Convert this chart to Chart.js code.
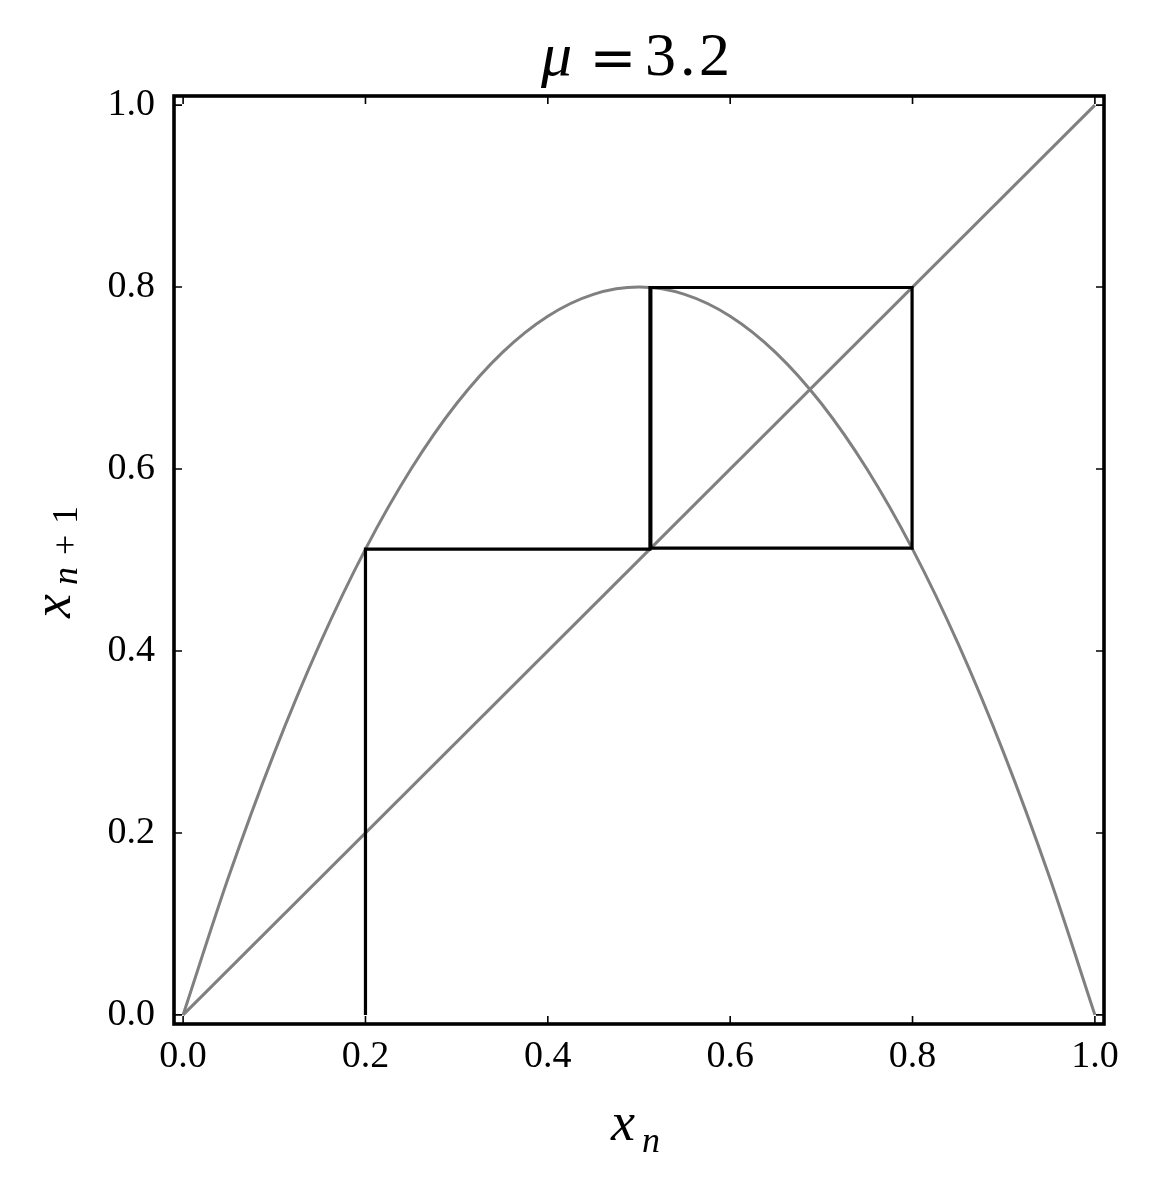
<!DOCTYPE html>
<html>
<head>
<meta charset="utf-8">
<script src="https://cdn.jsdelivr.net/npm/chart.js@4/dist/chart.umd.min.js"></script>
<style>
  html, body { margin: 0; padding: 0; background: #fff; }
  #wrap { width: 1150px; height: 1185px; }
</style>
</head>
<body>
<div id="wrap"><canvas id="c" width="1150" height="1185"></canvas></div>
<script>
// map curve x_{n+1} vs x_n
var curveX = [0, 0.05, 0.1, 0.15, 0.2, 0.25, 0.3, 0.35, 0.4, 0.45, 0.5,
              0.55, 0.6, 0.65, 0.7, 0.75, 0.8, 0.85, 0.9, 0.95, 1.0];
var curveY = [0, 0.152, 0.288, 0.408, 0.512, 0.6, 0.672, 0.728, 0.768, 0.792, 0.8,
              0.792, 0.768, 0.728, 0.672, 0.6, 0.512, 0.408, 0.288, 0.152, 0];

// diagonal x_{n+1} = x_n
var diagX = [0, 1];
var diagY = [0, 1];

// cobweb path starting at x0 = 0.2
var webX = [0.2, 0.2, 0.512, 0.512, 0.7995, 0.7995, 0.513, 0.513, 0.7995, 0.7995, 0.513];
var webY = [0, 0.512, 0.512, 0.7995, 0.7995, 0.513, 0.513, 0.7995, 0.7995, 0.513, 0.513];

var tickVals = [0, 0.2, 0.4, 0.6, 0.8, 1.0];
var axisMin = -0.01, axisMax = 1.01;

function pts(xs, ys) {
  var out = [];
  for (var i = 0; i < xs.length; i++) out.push({x: xs[i], y: ys[i]});
  return out;
}

var GRAY = '#808080';
var tickFont = {family: "'Liberation Serif', 'Times New Roman', serif", size: 38};

// frame, inward ticks and the math-style texts
var decor = {
  id: 'decor',
  afterDraw: function(chart) {
    var ctx = chart.ctx, a = chart.chartArea;
    var sx = chart.scales.x, sy = chart.scales.y;
    ctx.save();
    ctx.strokeStyle = '#000';
    ctx.lineWidth = 1.6;
    ctx.beginPath();
    tickVals.forEach(function(v) {
      var px = sx.getPixelForValue(v), py = sy.getPixelForValue(v);
      ctx.moveTo(px, a.bottom); ctx.lineTo(px, a.bottom - 8);
      ctx.moveTo(px, a.top); ctx.lineTo(px, a.top + 8);
      ctx.moveTo(a.left, py); ctx.lineTo(a.left + 8, py);
      ctx.moveTo(a.right, py); ctx.lineTo(a.right - 8, py);
    });
    ctx.stroke();
    ctx.lineWidth = 3.6;
    ctx.strokeRect(a.left, a.top, a.right - a.left, a.bottom - a.top);

    ctx.fillStyle = '#000';
    ctx.textBaseline = 'alphabetic';
    ctx.textAlign = 'left';
    var cx = (a.left + a.right) / 2;

    // title  mu = 3.2
    ctx.font = "italic 62px 'Liberation Serif'";
    ctx.fillText('\u03bc', cx - 98, 75);
    ctx.font = "56px 'DejaVu Sans'";
    ctx.textAlign = 'center';
    ctx.fillText('=', cx - 26, 77);
    ctx.textAlign = 'left';
    ctx.font = "62px 'Liberation Serif'";
    ctx.fillText('3', cx + 6, 75);
    ctx.fillText('.', cx + 41, 75);
    ctx.fillText('2', cx + 60, 75);

    // x label  x_n
    ctx.font = "italic 54px 'Liberation Serif'";
    ctx.fillText('x', cx - 28, 1140);
    ctx.font = "italic 36px 'Liberation Serif'";
    ctx.fillText('n', cx + 3, 1152);

    // y label  x_{n+1}, rotated
    var cy = (a.top + a.bottom) / 2;
    function vtext(str, font, bx, sy0) {
      ctx.save();
      ctx.translate(bx, sy0);
      ctx.rotate(-Math.PI / 2);
      ctx.font = font;
      ctx.fillText(str, 0, 0);
      ctx.restore();
    }
    vtext('x', "italic 54px 'Liberation Serif'", 70, cy + 58);
    vtext('n', "italic 36px 'Liberation Serif'", 77, cy + 25);
    vtext('+', "36px 'Liberation Serif'", 77, cy - 5);
    vtext('1', "36px 'Liberation Serif'", 77, cy - 36);
    ctx.restore();
  }
};

new Chart(document.getElementById('c'), {
  type: 'scatter',
  data: {
    datasets: [
      {
        data: pts(webX, webY),
        showLine: true, borderColor: '#000', borderWidth: 3.2,
        pointRadius: 0, tension: 0, order: 1
      },
      {
        data: pts(curveX, curveY),
        showLine: true, borderColor: GRAY, borderWidth: 3,
        pointRadius: 0, cubicInterpolationMode: 'monotone', order: 2
      },
      {
        data: pts(diagX, diagY),
        showLine: true, borderColor: GRAY, borderWidth: 3,
        pointRadius: 0, order: 3
      }
    ]
  },
  options: {
    responsive: false,
    animation: false,
    layout: {padding: {top: 96, right: 46, left: 0, bottom: 0}},
    plugins: {legend: {display: false}, tooltip: {enabled: false}, title: {display: false}},
    scales: {
      x: {
        type: 'linear', min: axisMin, max: axisMax,
        afterBuildTicks: function(s) { s.ticks = tickVals.map(function(v) { return {value: v}; }); },
        afterFit: function(s) { s.height = 161; },
        grid: {display: false, drawTicks: false},
        border: {display: false},
        ticks: {
          font: tickFont, color: '#000', padding: 10, maxRotation: 0, autoSkip: false,
          callback: function(v) { return v.toFixed(1); }
        }
      },
      y: {
        type: 'linear', min: axisMin, max: axisMax,
        afterBuildTicks: function(s) { s.ticks = tickVals.map(function(v) { return {value: v}; }); },
        afterFit: function(s) { s.width = 174; },
        grid: {display: false, drawTicks: false},
        border: {display: false},
        ticks: {
          font: tickFont, color: '#000', padding: 19, autoSkip: false,
          callback: function(v) { return v.toFixed(1); }
        }
      }
    }
  },
  plugins: [decor]
});
</script>
</body>
</html>
